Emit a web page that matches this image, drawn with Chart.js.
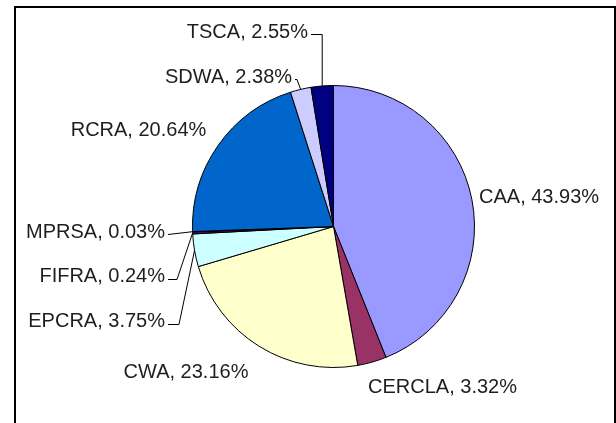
<!DOCTYPE html>
<html lang="en">
<head>
    <meta charset="UTF-8">
    <title>Share by statute</title>
    <script src="https://cdn.jsdelivr.net/npm/chart.js"></script>
    <style>
        body { margin: 0; background: #fff; }
        #wrap { position: relative; width: 616px; height: 423px; overflow: hidden; }
        #chart { position: absolute; left: 0; top: 0; }
        /* frame around the chart, open at the bottom of the picture */
        #frame { position: absolute; left: 14px; top: 6px; width: 598px; height: 440px;
                 border: 2px solid #000; pointer-events: none; }
    </style>
</head>
<body>
    <div id="wrap">
        <canvas id="chart" width="616" height="423"></canvas>
        <div id="frame"></div>
    </div>

    <script>
        // data
        const statutes = ['CAA', 'CERCLA', 'CWA', 'EPCRA', 'FIFRA', 'MPRSA', 'RCRA', 'SDWA', 'TSCA'];
        const shares = [43.93, 3.32, 23.16, 3.75, 0.24, 0.03, 20.64, 2.38, 2.55];
        const sliceColors = ['#9999FF', '#993366', '#FFFFCC', '#CCFFFF', '#660066', '#FF8080', '#0066CC', '#CCCCFF', '#000080'];

        // label layout, in units of the pie radius from its centre
        // bend: x of the leader elbow ('arc' = straight above the slice), null = no leader
        const labelSpots = [
            { x: 1.032, y: -0.209, align: 'left' },
            { x: 0.773, y: 1.145, align: 'center' },
            { x: -1.046, y: 1.032, align: 'center' },
            { x: -1.195, y: 0.677, align: 'right', leader: true, bend: -1.096 },
            { x: -1.195, y: 0.358, align: 'right', leader: true, bend: -1.11 },
            { x: -1.195, y: 0.039, align: 'right', leader: true, bend: null },
            { x: -1.383, y: -0.684, align: 'center' },
            { x: -0.294, y: -1.060, align: 'right', leader: true, bend: -0.259 },
            { x: -0.181, y: -1.379, align: 'right', leader: true, bend: 'arc' }
        ];

        const labelPlugin = {
            id: 'sliceLabels',
            afterDatasetsDraw(chart) {
                const ctx = chart.ctx;
                const meta = chart.getDatasetMeta(0);
                ctx.save();
                ctx.font = '20px "Liberation Sans", Arial, sans-serif';
                ctx.fillStyle = '#1e1e1e';
                ctx.strokeStyle = '#000';
                ctx.lineWidth = 1;
                ctx.textBaseline = 'middle';
                meta.data.forEach((arc, i) => {
                    const spot = labelSpots[i];
                    const r = arc.outerRadius;
                    const tx = arc.x + spot.x * r;
                    const ty = arc.y + spot.y * r;
                    const text = statutes[i] + ', ' + shares[i].toFixed(2) + '%';
                    ctx.textAlign = spot.align;
                    ctx.fillText(text, tx, ty);

                    if (spot.leader) {
                        const mid = (arc.startAngle + arc.endAngle) / 2;
                        const ex = arc.x + Math.cos(mid) * r;
                        const ey = arc.y + Math.sin(mid) * r;
                        const sx = tx + 3;
                        const ly = Math.round(ty + 2) + 0.5;
                        ctx.beginPath();
                        ctx.moveTo(sx, ly);
                        if (spot.bend === 'arc') {
                            ctx.lineTo(ex, ly);
                        } else if (spot.bend !== null) {
                            ctx.lineTo(arc.x + spot.bend * r, ly);
                        }
                        ctx.lineTo(ex, ey);
                        ctx.stroke();
                    }
                });
                ctx.restore();
            }
        };

        new Chart(document.getElementById('chart'), {
            type: 'pie',
            data: {
                labels: statutes,
                datasets: [{
                    data: shares,
                    backgroundColor: sliceColors,
                    borderColor: '#000',
                    borderWidth: 1
                }]
            },
            options: {
                responsive: false,
                animation: false,
                layout: { padding: { top: 85, bottom: 55, left: 192, right: 141 } },
                plugins: {
                    legend: { display: false },
                    tooltip: { enabled: false }
                }
            },
            plugins: [labelPlugin]
        });
    </script>
</body>
</html>
